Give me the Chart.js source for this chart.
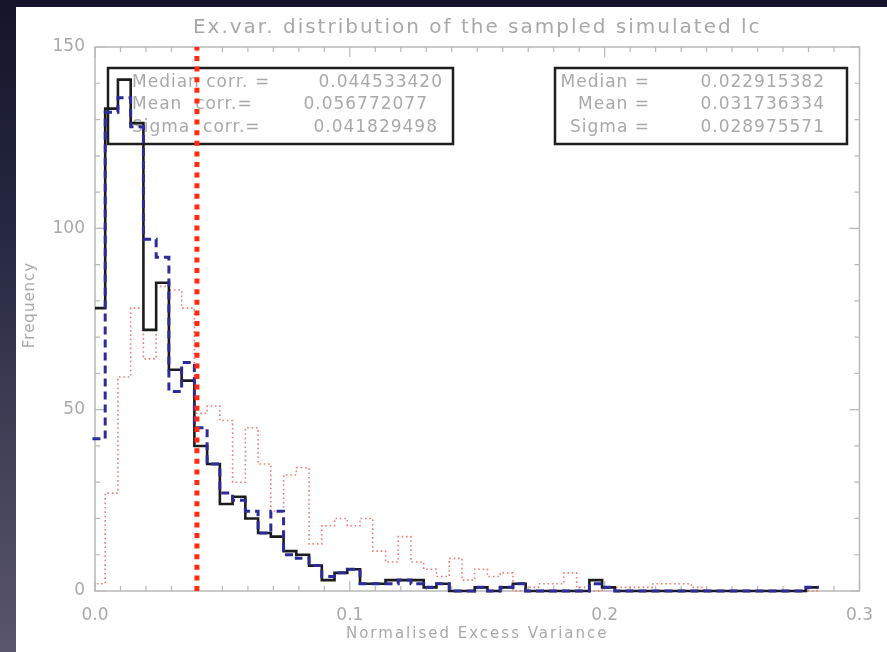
<!DOCTYPE html>
<html>
<head>
<meta charset="utf-8">
<script src="https://cdn.jsdelivr.net/npm/chart.js@4/dist/chart.umd.min.js"></script>
<style>
  html, body { margin: 0; padding: 0; }
  body {
    width: 887px; height: 652px; overflow: hidden; position: relative;
    background: linear-gradient(to bottom, #14152a 0%, #262841 35%, #46455c 75%, #5a566c 100%);
  }
  #panel {
    position: absolute; left: 16px; top: 7px; width: 871px; height: 645px;
    background: #ffffff;
  }
  canvas { display: block; }
</style>
</head>
<body>
<div id="panel"><canvas id="chart" width="871" height="645"></canvas></div>
<script>
// Histogram binning (normalised excess variance)
const binStart = -0.001;
const binWidth = 0.005;

// Counts per bin, sampled simulated light curves (solid black)
const sampledCounts = [78, 133, 141, 129, 72, 85, 61, 58, 40, 35,
  24, 26, 20, 16, 15, 11, 10, 7, 3, 5,
  6, 2, 2, 3, 3, 3, 1, 2, 0, 0,
  1, 0, 1, 2, 0, 0, 0, 0, 0, 3,
  1, 0, 0, 0, 0, 0, 0, 0, 0, 0,
  0, 0, 0, 0, 0, 0, 1];

// Counts per bin, simulated light curves (dashed blue)
const simulatedCounts = [42, 132, 136, 128, 97, 92, 55, 63, 45, 35,
  27, 25, 22, 16, 22, 10, 9, 7, 4, 5,
  6, 2, 2, 2, 3, 2, 1, 2, 0, 0,
  1, 0, 1, 2, 0, 0, 0, 0, 0, 2,
  1, 0, 0, 0, 0, 0, 0, 0, 0, 0,
  0, 0, 0, 0, 0, 0, 1];

// Counts per bin, corrected distribution (dotted red)
const correctedCounts = [2, 27, 59, 78, 64, 84, 83, 78, 49, 51,
  47, 30, 45, 35, 22, 32, 34, 13, 18, 20,
  18, 20, 11, 8, 15, 8, 6, 4, 9, 3,
  6, 4, 5, 0, 1, 2, 2, 5, 1, 0,
  1, 1, 1, 1, 2, 2, 2, 1, 0, 0,
  0, 0, 0, 0, 0, 0, 0];

// Vertical reference line
const cutValue = 0.04;

// Axis ranges and labelled ticks
const xRange = [0, 0.3];
const yRange = [0, 150];
const xTickStep = 0.1;
const yTickStep = 50;
const xMinorStep = 0.01;
const yMinorStep = 10;

// Texts
const titleText = 'Ex.var. distribution of the sampled simulated lc';
const xTitle = 'Normalised Excess Variance';
const yTitle = 'Frequency';
const corrLabels = ['Median corr. =', 'Mean  corr.=', 'Sigma  corr.='];
const corrValues = ['0.044533420', '0.056772077', '0.041829498'];
const statLabels = ['Median =', 'Mean =', 'Sigma ='];
const statValues = ['0.022915382', '0.031736334', '0.028975571'];

const FONT = '"DejaVu Sans", "Liberation Sans", sans-serif';
const TEXT_GREY = '#a9a9a9';
const AXIS_GREY = '#b8b8b8';

// Build step-histogram vertices from bin edges and counts
function stepPoints(counts, fromFloor) {
  const pts = [];
  if (fromFloor) pts.push({ x: binStart, y: 0 });
  counts.forEach((c, i) => pts.push({ x: binStart + i * binWidth, y: c }));
  pts.push({ x: binStart + counts.length * binWidth, y: counts[counts.length - 1] });
  return pts;
}

// Frame with inward ticks, text panels, title and axis titles
const decorations = {
  id: 'decorations',
  beforeDatasetsDraw(chart) {
    const { ctx, chartArea: ca, scales: { x, y } } = chart;
    ctx.save();
    // frame
    ctx.strokeStyle = AXIS_GREY;
    ctx.lineWidth = 1.5;
    ctx.strokeRect(ca.left, ca.top, ca.right - ca.left, ca.bottom - ca.top);
    // x ticks (bottom and top)
    ctx.lineWidth = 1.2;
    const nx = Math.round((xRange[1] - xRange[0]) / xMinorStep);
    for (let i = 0; i <= nx; i++) {
      const v = xRange[0] + i * xMinorStep;
      const px = x.getPixelForValue(v);
      const major = i % Math.round(xTickStep / xMinorStep) === 0;
      const len = major ? 10 : 5;
      ctx.beginPath();
      ctx.moveTo(px, ca.bottom); ctx.lineTo(px, ca.bottom - len);
      ctx.moveTo(px, ca.top); ctx.lineTo(px, ca.top + len);
      ctx.stroke();
    }
    // y ticks (left and right)
    const ny = Math.round((yRange[1] - yRange[0]) / yMinorStep);
    for (let i = 0; i <= ny; i++) {
      const v = yRange[0] + i * yMinorStep;
      const py = y.getPixelForValue(v);
      const major = i % Math.round(yTickStep / yMinorStep) === 0;
      const len = major ? 10 : 5;
      ctx.beginPath();
      ctx.moveTo(ca.left, py); ctx.lineTo(ca.left + len, py);
      ctx.moveTo(ca.right, py); ctx.lineTo(ca.right - len, py);
      ctx.stroke();
    }

    // statistic panels
    ctx.strokeStyle = '#1e1e1e';
    ctx.lineWidth = 2.5;
    const boxTop = ca.top + 21, boxH = 76;
    ctx.strokeRect(ca.left + 13, boxTop, 345, boxH);
    ctx.strokeRect(ca.left + 460, boxTop, 292, boxH);

    ctx.fillStyle = TEXT_GREY;
    ctx.font = '17px ' + FONT;
    ctx.letterSpacing = '1px';
    ctx.textBaseline = 'middle';
    const rows = [36, 58, 81];
    const corrRight = [348, 333, 343];
    rows.forEach((r, i) => {
      ctx.textAlign = 'left';
      ctx.fillText(corrLabels[i], ca.left + 37, ca.top + r);
      ctx.textAlign = 'right';
      ctx.fillText(corrValues[i], ca.left + corrRight[i], ca.top + r);
      ctx.fillText(statLabels[i], ca.left + 555, ca.top + r);
      ctx.fillText(statValues[i], ca.left + 730, ca.top + r);
    });

    // title and axis titles
    const cx = (ca.left + ca.right) / 2;
    ctx.textAlign = 'center';
    ctx.font = '20px ' + FONT;
    ctx.letterSpacing = '2px';
    ctx.fillText(titleText, cx, 21);
    ctx.font = '15px ' + FONT;
    ctx.letterSpacing = '2px';
    ctx.fillText(xTitle, cx, 627);
    ctx.save();
    ctx.letterSpacing = '1px';
    ctx.translate(14, 298);
    ctx.rotate(-Math.PI / 2);
    ctx.fillText(yTitle, 0, 0);
    ctx.restore();
    ctx.letterSpacing = '0px';
    ctx.restore();
  }
};

new Chart(document.getElementById('chart'), {
  type: 'scatter',
  data: {
    datasets: [
      {
        label: 'cut',
        data: [{ x: cutValue, y: yRange[0] }, { x: cutValue, y: yRange[1] }],
        showLine: true, borderColor: '#ff2a10', borderWidth: 5,
        borderDash: [5, 5.6], pointRadius: 0, borderCapStyle: 'butt', clip: false
      },
      {
        label: 'simulated',
        data: stepPoints(simulatedCounts, true),
        showLine: true, stepped: 'before', borderColor: '#2b2b9c', borderWidth: 3,
        borderDash: [8, 5], pointRadius: 0,
        clip: { left: 4, top: 0, right: 0, bottom: 3 }
      },
      {
        label: 'sampled',
        data: stepPoints(sampledCounts, false),
        showLine: true, stepped: 'before', borderColor: '#1c1c1c', borderWidth: 2.6,
        pointRadius: 0, clip: { left: 0, top: 0, right: 0, bottom: 3 }
      },
      {
        label: 'corrected',
        data: stepPoints(correctedCounts, false),
        showLine: true, stepped: 'before', borderColor: '#f07c74', borderWidth: 1.6,
        borderDash: [1.6, 2.8], pointRadius: 0, clip: { left: 0, top: 0, right: 0, bottom: 3 }
      }
    ]
  },
  options: {
    responsive: false,
    animation: false,
    devicePixelRatio: 1,
    layout: { padding: { left: 0, right: 26, top: 40, bottom: 0 } },
    plugins: { legend: { display: false }, tooltip: { enabled: false }, title: { display: false } },
    scales: {
      x: {
        type: 'linear', min: xRange[0], max: xRange[1],
        grid: { display: false, drawTicks: false },
        border: { display: false },
        ticks: {
          stepSize: xTickStep, padding: 14, color: TEXT_GREY,
          font: { family: FONT, size: 17 },
          callback: v => Number(v).toFixed(1),
          maxRotation: 0
        },
        afterFit: s => { s.height = 61; }
      },
      y: {
        type: 'linear', min: yRange[0], max: yRange[1],
        grid: { display: false, drawTicks: false },
        border: { display: false },
        ticks: {
          stepSize: yTickStep, padding: 10, color: TEXT_GREY,
          font: { family: FONT, size: 17 }
        },
        afterFit: s => { s.width = 79; }
      }
    }
  },
  plugins: [decorations]
});
</script>
</body>
</html>
